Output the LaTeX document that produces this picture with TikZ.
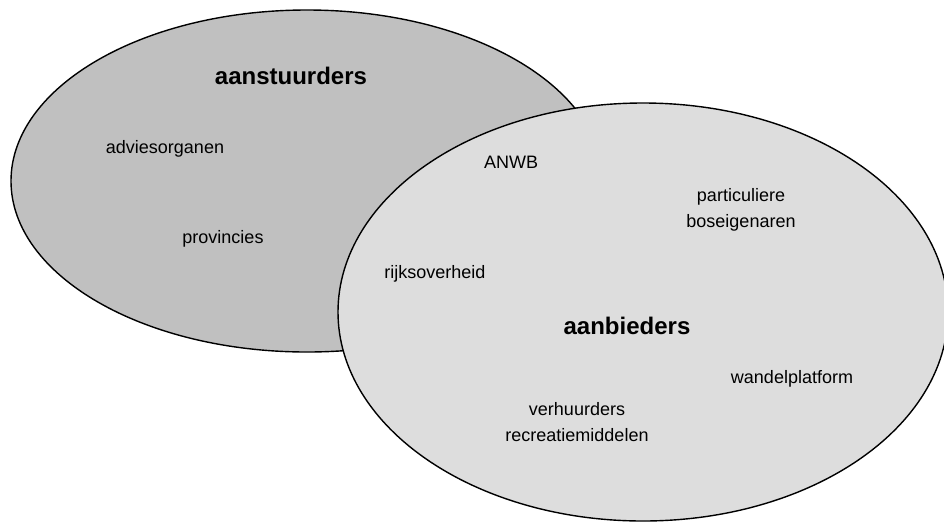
\documentclass[tikz,border=0pt]{standalone}
\usepackage{fontspec}
\setmainfont{Liberation Sans}
\definecolor{darkfill}{RGB}{192,192,192}
\definecolor{lightfill}{RGB}{221,221,221}
\tikzstyle{member} = [font=\fontsize{18}{26}\selectfont, align=center, inner sep=0pt]
\tikzstyle{group} = [font=\fontsize{24}{28}\selectfont\bfseries, inner sep=0pt]
\tikzstyle{set} = [line width=1.4pt]

\begin{document}
\begin{tikzpicture}[x=1pt,y=-1pt]
      \useasboundingbox (0,0) rectangle (944,523);
      \clip (0,0) rectangle (944,523);
      \filldraw[set, fill=darkfill] (307,181) ellipse [x radius=296pt, y radius=171pt];
      \filldraw[set, fill=lightfill] (643,312) ellipse [x radius=305pt, y radius=209pt];
      \node[group] (stuur) at (291,76) {aanstuurders};
      \node[member] (advies) at (165,149) {adviesorganen};
      \node[member] (prov) at (223,239) {provincies};
      \node[group] (bied) at (627,326) {aanbieders};
      \node[member] (anwb) at (511,162) {ANWB};
      \node[member] (boseig) at (741,210) {particuliere\\boseigenaren};
      \node[member] (rijk) at (435,274) {rijksoverheid};
      \node[member] (wandel) at (792,379) {wandelplatform};
      \node[member] (verhuur) at (577,422) {verhuurders\\recreatiemiddelen};
    \end{tikzpicture}
\end{document}
